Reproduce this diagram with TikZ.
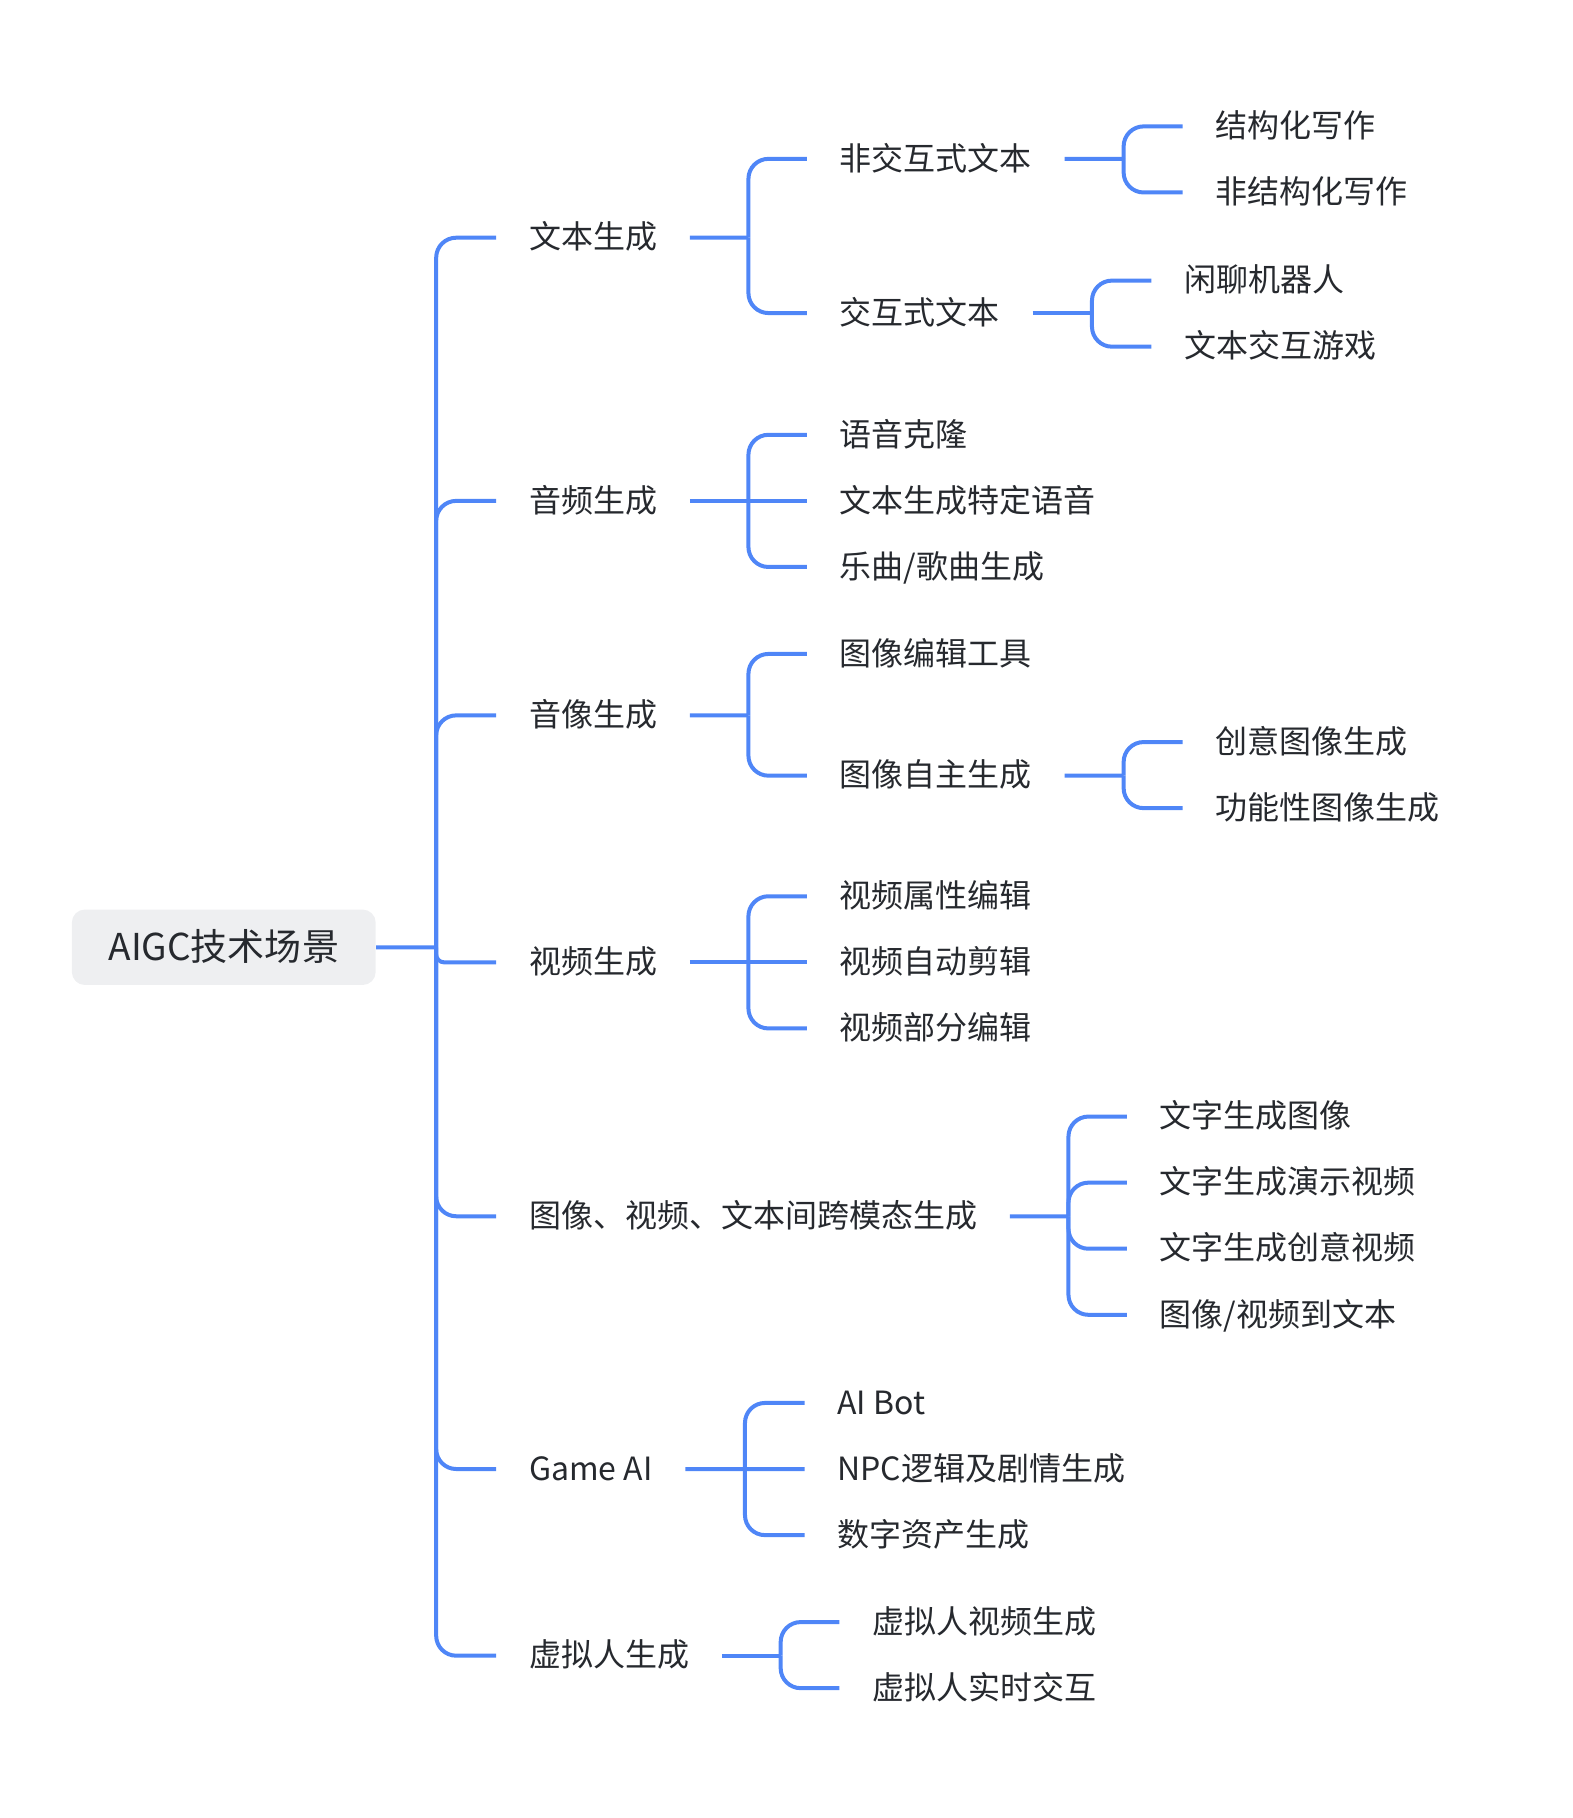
\documentclass[tikz,border=0pt]{standalone}
\usepackage{fontspec}
\setmainfont{Noto Sans CJK SC}
\usetikzlibrary{calc}
\definecolor{lineblue}{HTML}{4F86F7}
\definecolor{txt}{HTML}{26292E}
\definecolor{rootfill}{HTML}{EEEFF1}
\newcommand\curvekid[3][10pt]{\draw[conn,rounded corners=#1] ($(#2.east)!.5!(#3.west|-#2.east)$) |- (#3.west);}
\newcommand\pstem[2]{\draw[conn] (#1.east) -- ($(#1.east)!.5!(#2.west|-#1.east)$);}
\newcommand\flatkid[2]{\draw[conn] ($(#1.east)!.5!(#2.west|-#1.east)$) -- (#2.west);}
\begin{document}
\begin{tikzpicture}[x=0.5796pt,y=-0.5796pt,
  item/.style={anchor=west, inner xsep=16.2pt, inner ysep=2pt, text height=13.6pt, text depth=2.4pt, font=\fontsize{16pt}{19pt}\selectfont, text=txt},
  rootbox/.style={fill=rootfill, rounded corners=6.5pt, minimum width=151.9pt, minimum height=37.7pt, inner sep=0pt, text height=15.7pt, text depth=2.8pt, font=\fontsize{18.5pt}{22pt}\selectfont, text=txt},
  conn/.style={draw=lineblue, line width=2pt}]
\useasboundingbox (0,0) rectangle (1356,1568);
% root
\node[rootbox] (root) at (193,817) {AIGC技术场景};
% level 1
\node[item] (a) at (428,205) {文本生成};
\node[item] (b) at (428,432) {音频生成};
\node[item] (c) at (428,617) {音像生成};
\node[item] (d) at (428,830) {视频生成};
\node[item] (e) at (428,1049) {图像、视频、文本间跨模态生成};
\node[item] (f) at (428,1267) {Game AI};
\node[item] (g) at (428,1428) {虚拟人生成};
% level 2 / 3
\node[item] (a1) at (696,137) {非交互式文本};
\node[item] (a2) at (696,270) {交互式文本};
\node[item] (a1a) at (1020,109) {结构化写作};
\node[item] (a1b) at (1020,166) {非结构化写作};
\node[item] (a2a) at (993,242) {闲聊机器人};
\node[item] (a2b) at (993,299) {文本交互游戏};
\node[item] (b1) at (696,375) {语音克隆};
\node[item] (b2) at (696,432) {文本生成特定语音};
\node[item] (b3) at (696,489) {乐曲/歌曲生成};
\node[item] (c1) at (696,564) {图像编辑工具};
\node[item] (c2) at (696,669) {图像自主生成};
\node[item] (c2a) at (1020,640) {创意图像生成};
\node[item] (c2b) at (1020,697) {功能性图像生成};
\node[item] (d1) at (696,773) {视频属性编辑};
\node[item] (d2) at (696,830) {视频自动剪辑};
\node[item] (d3) at (696,887) {视频部分编辑};
\node[item] (e1) at (972,963) {文字生成图像};
\node[item] (e2) at (972,1020) {文字生成演示视频};
\node[item] (e3) at (972,1077) {文字生成创意视频};
\node[item] (e4) at (972,1134) {图像/视频到文本};
\node[item] (f1) at (694,1210) {AI Bot};
\node[item] (f2) at (694,1267) {NPC逻辑及剧情生成};
\node[item] (f3) at (694,1324) {数字资产生成};
\node[item] (g1) at (724,1399) {虚拟人视频生成};
\node[item] (g2) at (724,1456) {虚拟人实时交互};
% connectors: root
\pstem{root}{a}
\curvekid{root}{a}\curvekid{root}{b}\curvekid{root}{c}\curvekid[4pt]{root}{d}
\curvekid{root}{e}\curvekid{root}{f}\curvekid{root}{g}
% 文本生成
\pstem{a}{a1}\curvekid{a}{a1}\curvekid{a}{a2}
\pstem{a1}{a1a}\curvekid{a1}{a1a}\curvekid{a1}{a1b}
\pstem{a2}{a2a}\curvekid{a2}{a2a}\curvekid{a2}{a2b}
% 音频生成
\pstem{b}{b1}\curvekid{b}{b1}\flatkid{b}{b2}\curvekid{b}{b3}
% 音像生成
\pstem{c}{c1}\curvekid{c}{c1}\curvekid{c}{c2}
\pstem{c2}{c2a}\curvekid{c2}{c2a}\curvekid{c2}{c2b}
% 视频生成
\pstem{d}{d1}\curvekid{d}{d1}\flatkid{d}{d2}\curvekid{d}{d3}
% 跨模态
\pstem{e}{e1}\curvekid{e}{e1}\curvekid{e}{e2}\curvekid{e}{e3}\curvekid{e}{e4}
% Game AI
\pstem{f}{f1}\curvekid{f}{f1}\flatkid{f}{f2}\curvekid{f}{f3}
% 虚拟人生成
\pstem{g}{g1}\curvekid{g}{g1}\curvekid{g}{g2}
\end{tikzpicture}
\end{document}
